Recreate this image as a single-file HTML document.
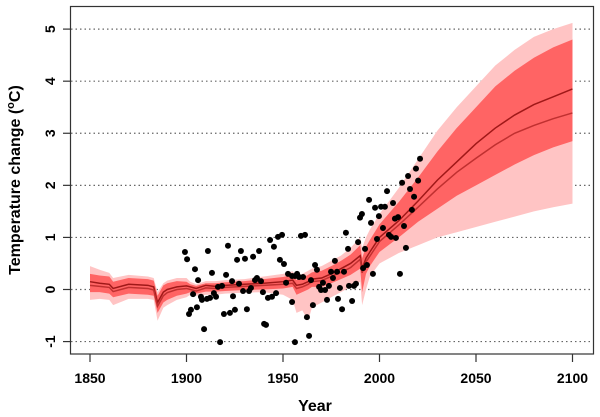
<!DOCTYPE html>
<html><head><meta charset="utf-8"><style>
body{margin:0;background:#fff}
svg{display:block;font-family:"Liberation Sans",Arial,sans-serif}
</style></head><body>
<svg id="chart" width="600" height="417">
<g id="grid"></g>
<g id="bands"></g>
<g id="pts"></g>
<g id="axes"></g>
<text x="315" y="411" text-anchor="middle" font-size="16" font-weight="bold">Year</text>
<text transform="translate(20,180) rotate(-90)" text-anchor="middle" font-size="16" font-weight="bold">Temperature change (<tspan font-size="11" dy="-6">o</tspan><tspan dy="6">C)</tspan></text>
</svg>
<script>
const yearTicks=[1850,1900,1950,2000,2050,2100];
const tempTicks=[-1,0,1,2,3,4,5];
const bandYears=[1850,1855,1860,1862,1870,1880,1883,1885,1888,1890,1895,1900,1902,1905,1910,1915,1920,1930,1940,1950,1955,1957,1960,1963,1965,1970,1975,1980,1985,1990,1991,1993,1995,2000,2010,2020,2030,2040,2050,2060,2070,2080,2090,2100];
const line1=[0.15,0.12,0.1,0.02,0.1,0.08,0.05,-0.25,-0.05,0.0,0.05,0.07,0.05,0.02,0.08,0.06,0.08,0.1,0.12,0.15,0.18,0.08,0.1,0.15,0.2,0.22,0.3,0.4,0.5,0.65,0.4,0.6,0.72,1.0,1.32,1.7,2.1,2.45,2.8,3.1,3.35,3.55,3.7,3.85];
const line2=[0.08,0.06,0.04,-0.04,0.04,0.02,-0.01,-0.32,-0.12,-0.06,0.0,0.02,0.0,-0.03,0.03,0.02,0.04,0.06,0.08,0.1,0.12,0.02,0.05,0.1,0.15,0.17,0.25,0.33,0.42,0.58,0.32,0.53,0.64,0.92,1.24,1.58,1.93,2.25,2.52,2.78,3.0,3.15,3.28,3.39];
const innerHi=[0.3,0.27,0.25,0.15,0.22,0.2,0.17,-0.12,0.08,0.12,0.16,0.15,0.1,0.07,0.12,0.12,0.14,0.16,0.2,0.24,0.28,0.18,0.22,0.28,0.33,0.36,0.45,0.55,0.67,0.85,0.6,0.82,0.95,1.25,1.68,2.15,2.65,3.1,3.5,3.9,4.2,4.45,4.65,4.8];
const innerLo=[-0.05,-0.05,-0.08,-0.15,-0.08,-0.1,-0.12,-0.45,-0.25,-0.2,-0.12,-0.08,-0.05,-0.08,-0.04,-0.04,-0.03,-0.01,0.0,0.02,0.05,-0.1,-0.05,0.0,0.05,0.05,0.12,0.2,0.28,0.4,-0.05,0.3,0.45,0.72,1.0,1.3,1.55,1.8,2.0,2.2,2.4,2.58,2.73,2.85];
const outerHi=[0.45,0.38,0.32,0.22,0.28,0.25,0.22,-0.05,0.12,0.17,0.22,0.22,0.15,0.1,0.16,0.16,0.18,0.2,0.25,0.3,0.35,0.25,0.3,0.36,0.4,0.45,0.55,0.65,0.8,1.0,0.8,1.0,1.15,1.45,1.95,2.5,3.05,3.5,3.9,4.3,4.6,4.85,5.0,5.12];
const outerLo=[-0.2,-0.18,-0.2,-0.3,-0.18,-0.18,-0.2,-0.6,-0.35,-0.3,-0.2,-0.15,-0.1,-0.12,-0.1,-0.1,-0.08,-0.06,-0.05,-0.1,-0.2,-0.45,-0.4,-0.6,-0.35,-0.25,-0.15,-0.05,0.05,0.15,-0.3,0.0,0.25,0.5,0.7,0.85,1.0,1.1,1.2,1.3,1.4,1.5,1.58,1.65];
const obsYears=[1899.2,1900.3,1904.4,1906,1903.4,1905.4,1902.3,1901.3,1907.5,1908,1910.6,1912.2,1911.1,1913.2,1914.2,1915.3,1916.3,1918.4,1909.1,1917.4,1919.4,1920.5,1921.5,1922.5,1923.6,1924.1,1925.1,1926.2,1927.2,1928.2,1929.3,1930.3,1931.3,1932.4,1933.4,1934.5,1935.5,1936.5,1937.6,
1938.6,1939.6,1942.2,1944.3,1946.4,1940.2,1941.2,1943.3,1945.3,1947.4,1949.5,1948.4,1950.5,1951.6,1952.6,1954.7,1956.2,1957.3,1954.7,1958.3,1960.4,1959.3,1961.4,1962.4,1963.5,1956.2,1964.5,1965.5,1966.6,1967.6,1968.7,1969.7,1970.7,1971.8,1972.8,1973.8,1974.9,1975.9,1976.9,1978,1978.5,1979.5,1980.6,1981.6,1982.6,1983.7,1984.2,1985.8,1986.8,1987.8,1988.9,1989.9,1990.9,1991.5,1992.5,1993.5,1994.6,1995.6,1996.6,1997.7,1998.7,1999.7,2000.8,2001.8,2002.8,2003.9,2004.9,2006,2007,2008,2008.5,2009.6,2010.6,2011.7,2012.7,2013.7,2014.8,2015.8,2016.8,2017.9,2018.9,2020,2021];
const obsTemps=[0.72,0.58,0.39,0.18,-0.09,-0.34,-0.39,-0.47,-0.14,-0.2,-0.18,-0.16,0.74,0.32,-0.07,-0.14,0.05,0.07,-0.76,-1.01,-0.47,0.28,0.84,-0.45,0.16,-0.13,-0.39,0.57,0.11,0.74,-0.03,0.59,-0.38,-0.03,0.03,0.63,0.18,0.22,0.74,
0.16,-0.05,-0.16,-0.14,-0.07,-0.66,-0.68,0.95,0.82,1.01,1.05,0.57,0.49,0.13,0.3,0.26,0.26,0.3,-0.24,0.24,0.24,1.03,1.05,-0.53,-0.89,-1.01,0.18,-0.3,0.47,0.38,0.05,-0.01,0.13,-0.01,-0.2,0.07,0.34,0.22,0.55,0.34,-0.18,0.03,-0.38,0.34,1.09,0.78,0.07,-0.22,0.07,0.11,0.91,1.38,1.45,0.41,0.78,0.47,1.72,1.28,0.3,1.57,0.97,1.41,1.59,1.18,1.59,1.89,1.05,1.01,1.66,1.36,0.99,1.39,0.3,2.05,1.22,0.8,2.18,1.93,1.53,1.78,2.32,2.09,2.51];
const X=y=>90+(y-1850)*1.93;
const Y=v=>289.5-v*52.08;
const NS='http://www.w3.org/2000/svg';
function mk(tag,parent,attrs){const e=document.createElementNS(NS,tag);for(const k in attrs)e.setAttribute(k,attrs[k]);parent.appendChild(e);return e;}
const grid=document.getElementById('grid'),bands=document.getElementById('bands'),pts=document.getElementById('pts'),axes=document.getElementById('axes');
tempTicks.forEach(t=>{const l=mk('line',grid,{x1:71,x2:593,y1:Y(t),y2:Y(t),stroke:'#666','stroke-width':1.2,'stroke-dasharray':'1.5,3'});

});
function area(lo,hi,fill,name){let d='M'+bandYears.map((y,i)=>X(y)+','+Y(hi[i])).join('L');
for(let i=bandYears.length-1;i>=0;i--)d+='L'+X(bandYears[i])+','+Y(lo[i]);
const p=mk('path',bands,{d:d+'Z',fill:fill});

}
area(outerLo,outerHi,'#ffc4c4','outer-band');
area(innerLo,innerHi,'#ff6464','inner-band');
function line(v,c,name){const p=mk('path',bands,{d:'M'+bandYears.map((y,i)=>X(y)+','+Y(v[i])).join('L'),fill:'none',stroke:c,'stroke-width':1.5});

}
line(line1,'#a01818','projection-line-upper');
line(line2,'#c03030','projection-line-lower');
obsYears.forEach((y,i)=>{const c=mk('circle',pts,{cx:X(y),cy:Y(obsTemps[i]),r:3,fill:'#000'});

});
const frame=mk('rect',axes,{x:70.5,y:6.5,width:523,height:347.5,fill:'none',stroke:'#333','stroke-width':1.2});


yearTicks.forEach(y=>{mk('line',axes,{x1:X(y),x2:X(y),y1:354,y2:362,stroke:'#333','stroke-width':1.2});
const t=mk('text',axes,{x:X(y),y:383,'text-anchor':'middle','font-size':14,'font-weight':'bold'});t.textContent=y;

});
tempTicks.forEach(v=>{mk('line',axes,{x1:63,x2:70.5,y1:Y(v),y2:Y(v),stroke:'#333','stroke-width':1.2});
const t=mk('text',axes,{transform:`translate(55,${Y(v)}) rotate(-90)`,'text-anchor':'middle','font-size':14,'font-weight':'bold'});t.textContent=v;

});
</script>
</body></html>
